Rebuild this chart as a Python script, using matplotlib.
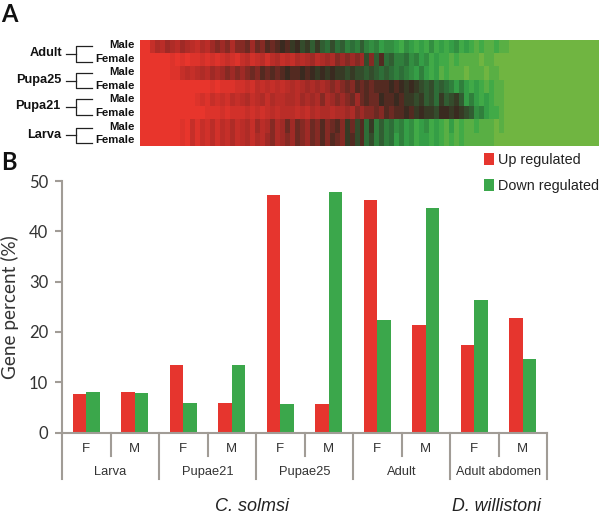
import numpy as np
import matplotlib
matplotlib.use('Agg')
import matplotlib.pyplot as plt
from matplotlib.colors import LinearSegmentedColormap

# panel B
stages = ['Larva', 'Pupae21', 'Pupae25', 'Adult', 'Adult abdomen']
sexes = ['F', 'M']
up = [7.6, 8.1, 13.4, 5.8, 47.2, 5.6, 46.3, 21.4, 17.3, 22.8]
down = [8.1, 7.8, 5.8, 13.4, 5.6, 47.9, 22.3, 44.7, 26.4, 14.7]
yticks = [0, 10, 20, 30, 40, 50]

# panel A, one list per heatmap row read left to right, -10 red, 0 black, 10 green
row_labels = ['Male', 'Female', 'Male', 'Female', 'Male', 'Female', 'Male', 'Female']
stage_labels = ['Adult', 'Pupa25', 'Pupa21', 'Larva']
adult_male = [-10, -10, -7, -5, -6, -4, -5, -6, -4, -5, -6, -7, -5, -6, -4, -3, -4, -3, -5, -3,
              -3, -2, -4, -2, -3, -1, -2, -1, 0, -1, 1, 0, 2, 1, 3, 1, 3, 4, 2, 4,
              3, 5, 4, 5, 3, 5, 6, 5, 7, 6, 6, 7, 8, 6, 7, 8, 7, 8, 6, 8,
              7, 8, 7, 6, 8, 7, 8, 9, 8, 9, 9, 8, 9, 9]
adult_female = [-10, -10, -10, -10, -10, -10, -9, -10, -9, -10, -9, -9, -8, -9, -8, -9, -8, -7, -8, -9,
                -7, -6, -8, -7, -6, -8, -6, -5, -7, -6, -7, -5, -6, -5, -4, -6, -5, -4, -5, -3,
                -4, -3, -4, -3, -4, 2, -3, 3, -1, 4, 3, 5, 5, 4, 6, 5, 7, 6, 8, 7,
                8, 8, 9, 8, 9, 9, 9, 9, 10, 9, 9, 10, 10, 10]
pupa25_male = [-10, -10, -10, -10, -10, -10, -9, -9, -7, -6, -7, -6, -5, -6, -4, -5, -4, -3, -4, -3,
               -4, -3, -2, -3, -1, -2, -1, -2, -1, 0, -1, -1, 0, -1, 0, 1, 0, 1, 0, 1,
               1, 2, 1, 2, 2, 3, 2, 3, 4, 3, 4, 5, 4, 5, 6, 7, 5, 7, 8, 7,
               9, 8, 9, 9, 9, 10, 9, 9, 9, 10, 9, 9, 10, 10]
pupa25_female = [-10, -10, -10, -10, -10, -10, -10, -10, -10, -10, -10, -10, -10, -10, -9, -10, -9, -9, -9, -8,
                 -8, -7, -8, -6, -7, -6, -7, -6, -7, -6, -5, -6, -5, -4, -5, -4, -5, -4, -3, -4,
                 -3, -2, -3, -1, -2, -1, -2, -1, -1, -1, 0, -1, 0, 1, 0, 1, 2, 3, 2, 4,
                 3, 4, 5, 7, 5, 7, 8, 7, 8, 9, 8, 9, 9, 10]
pupa21_male = [-10, -10, -10, -10, -10, -10, -10, -10, -10, -10, -10, -9, -8, -9, -7, -8, -7, -8, -6, -7,
               -6, -5, -7, -6, -5, -7, -5, -6, -6, -5, -5, -6, -4, -5, -4, -5, -3, -5, -4, -3,
               -4, -3, -2, -4, -2, -1, -2, -2, 0, -1, -1, 0, -1, 1, 1, 2, 1, 3, 2, 4,
               1, 3, 2, 1, 3, 7, 5, 7, 8, 7, 8, 9, 9, 10]
pupa21_female = [-10, -10, -10, -10, -10, -10, -10, -10, -10, -10, -10, -10, -10, -9, -9, -9, -8, -9, -8, -8,
                 -8, -7, -8, -7, -8, -7, -6, -7, -6, -6, -6, -7, -6, -7, -5, -6, -5, -5, -6, -5,
                 -5, -4, -5, -3, -4, -3, -3, -2, -3, -1, -2, -1, -1, 0, -1, 1, 0, 1, 1, 2,
                 0, 0, 1, 0, 1, 2, 3, 6, 5, 7, 8, 8, 9, 10]
larva_male = [-10, -10, -10, -10, -10, -10, -10, -10, -9, -10, -7, -9, -7, -8, -6, -8, -6, -7, -5, -7,
              -6, -5, -7, -4, -6, -5, -3, -5, -4, -2, -4, -2, -3, -4, -2, -3, -1, -3, -2, -1,
              -3, 1, -2, 2, -1, 4, 1, 5, 3, 5, 4, 6, 5, 7, 6, 8, 7, 6, 8, 7,
              8, 9, 7, 9, 8, 9, 9, 8, 9, 9, 9, 10, 9, 10]
larva_female = [-10, -10, -10, -10, -10, -10, -10, -10, -9, -10, -7, -9, -7, -8, -6, -8, -6, -7, -5, -7,
                -6, -5, -7, -5, -6, -4, -3, -5, -4, -3, -4, -2, -3, -4, -2, -3, -1, -3, -1, -2,
                -3, 1, -1, 2, -1, 4, 2, 5, 3, 5, 4, 7, 5, 7, 6, 8, 7, 7, 8, 7,
                8, 9, 8, 9, 8, 9, 9, 9, 9, 9, 9, 10, 10, 10]
right_plateau = [10] * 18

RED = '#E6352E'
GREEN = '#3BA74B'
AXIS = '#A19C96'

plt.rcParams['font.family'] = ['Lato', 'DejaVu Sans']

fig = plt.figure(figsize=(6, 5.2), dpi=100)
W, H = 600, 520


def place(left, top, right, bottom):
    return [left / W, 1 - bottom / H, (right - left) / W, (bottom - top) / H]


# heatmap
rows = [adult_male, adult_female, pupa25_male, pupa25_female,
        pupa21_male, pupa21_female, larva_male, larva_female]
matrix = np.array([r + right_plateau for r in rows])
cmap = LinearSegmentedColormap.from_list('rg', [
    (0.0, '#E8352C'), (0.28, '#A82B27'), (0.5, '#3B2A20'),
    (0.7, '#2E6E38'), (0.88, '#37A849'), (1.0, '#70B541')])
ax_h = fig.add_axes(place(140, 40, 599, 146))
ax_h.imshow(matrix, cmap=cmap, vmin=-10, vmax=10, aspect='auto', interpolation='nearest')
ax_h.axis('off')

# bars
ax = fig.add_axes(place(62, 181, 547, 432.5))
n = len(up)
x = np.arange(n)
w = 0.283
ax.bar(x - w / 2, up, w, color=RED, label='Up regulated')
ax.bar(x + w / 2, down, w, color=GREEN, label='Down regulated')
ax.set_xlim(-0.5, n - 0.5)
ax.set_ylim(0, 50)
ax.set_yticks(yticks)
ax.set_xticks([])
ax.tick_params(axis='y', length=5, width=1.5, color=AXIS, labelsize=12, labelcolor='#333333', pad=5)
ax.set_ylabel('Gene percent (%)', fontsize=13.6, color='#333333', labelpad=7)
for s in ['top', 'right']:
    ax.spines[s].set_visible(False)
for s in ['left', 'bottom']:
    ax.spines[s].set_color(AXIS)
    ax.spines[s].set_linewidth(1.5)

# two level category axis under the bars
for i in range(n + 1):
    bottom = -9.2 if i % 2 == 0 else -4.6
    ax.plot([i - 0.5, i - 0.5], [0, bottom], color=AXIS, lw=1.5, clip_on=False)
for i in range(n):
    ax.text(i, -3.3, sexes[i % 2], ha='center', va='center', fontsize=9.5,
            family='Liberation Sans', color='#333333')
for i, name in enumerate(stages):
    ax.text(2 * i + 0.5, -7.8, name, ha='center', va='center', fontsize=9.3 if i < 4 else 9.1,
            family='Liberation Sans', color='#333333')
ax.text(3.42, -14.8, 'C. solmsi', ha='center', va='center', fontsize=13, style='italic',
        family='Liberation Sans', color='#222222')
ax.text(8.45, -14.8, 'D. willistoni', ha='center', va='center', fontsize=12.8, style='italic',
        family='Liberation Sans', color='#222222')
leg = ax.legend(loc='upper left', bbox_to_anchor=(481 / W, 1 - 150 / H), bbox_transform=fig.transFigure,
                frameon=False, handlelength=0.7, handleheight=0.9, handletextpad=0.25,
                labelspacing=0.85, borderpad=0.2, borderaxespad=0, labelcolor='#222222',
                prop={'family': 'Liberation Sans', 'size': 10.4})

# pixel overlay for the panel letters and the stage brackets
ov = fig.add_axes([0, 0, 1, 1])
ov.set_xlim(0, W)
ov.set_ylim(H, 0)
ov.axis('off')
ov.patch.set_alpha(0)
ov.text(1, 15, 'A', fontsize=17, fontweight='bold', va='center', color='#111111')
ov.text(1, 163, 'B', fontsize=17, fontweight='bold', va='center', color='#111111')

label_y = [44.5, 59, 72, 86, 99.5, 113, 127, 140]
for y, name in zip(label_y, row_labels):
    ov.text(135, y, name, ha='right', va='center', fontsize=8.2, fontweight='bold',
            family='Liberation Sans', color='#111111')
bracket_y = [(46, 62), (73, 88), (99, 115), (127.5, 143)]
stem_right = [62, 61, 60, 61]
for (y0, y1), name, right in zip(bracket_y, stage_labels, stem_right):
    mid = (y0 + y1) / 2
    ov.plot([92, 76, 76, 92], [y0, y0, y1, y1], color='#222222', lw=0.9)
    ov.plot([66, 76], [mid, mid], color='#222222', lw=0.9)
    ov.text(right, mid - 0.5, name, ha='right', va='center', fontsize=9.2, fontweight='bold',
            family='Liberation Sans', color='#111111')

fig.savefig('out.png', dpi=100)
